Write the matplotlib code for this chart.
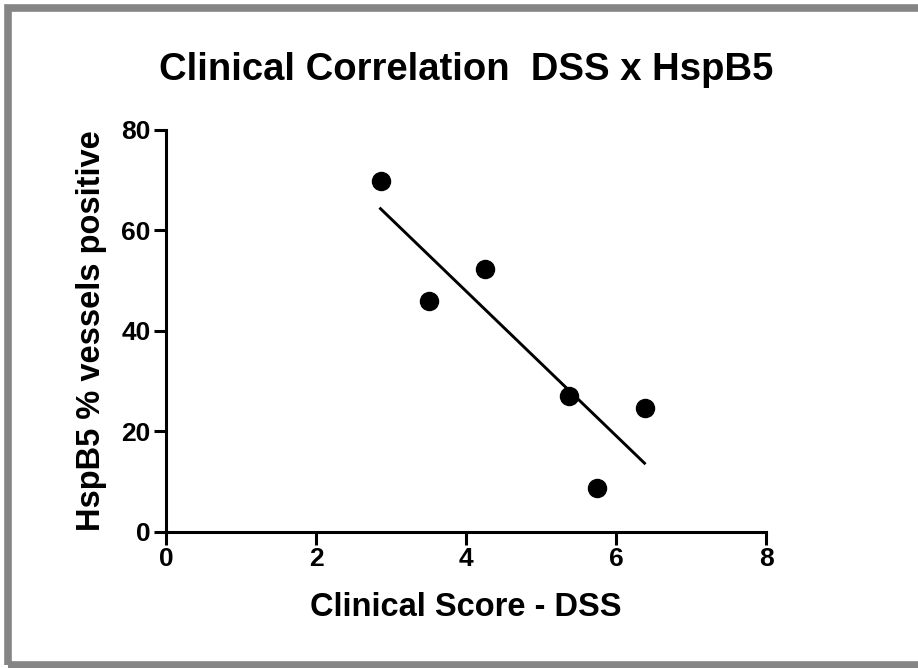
import numpy as np
import matplotlib
matplotlib.use("Agg")
import matplotlib.pyplot as plt
from matplotlib.patches import Rectangle

# clinical score (DSS) vs HspB5 % positive vessels
dss = [2.86, 3.50, 4.25, 5.37, 5.75, 6.38]
hspb5 = [69.9, 45.9, 52.3, 26.9, 8.6, 24.6]

xticks = [0, 2, 4, 6, 8]
yticks = [0, 20, 40, 60, 80]

plt.rcParams['font.family'] = ['Liberation Sans', 'DejaVu Sans']
plt.rcParams['font.weight'] = 'bold'

W, H = 918, 668
fig = plt.figure(figsize=(W / 100, H / 100), dpi=100)
ax = fig.add_axes([166 / W, 1 - 531.5 / H, 600 / W, 401.5 / H])

# linear fit over the data range
slope, intercept = np.polyfit(dss, hspb5, 1)
xf = np.array([min(dss), max(dss)])
ax.plot(xf, slope * xf + intercept, color='black', lw=2.1, zorder=2)
ax.plot(dss, hspb5, 'o', color='black', ms=13, zorder=3)

ax.set_xlim(0, 8)
ax.set_ylim(0, 80)
ax.set_xticks(xticks)
ax.set_yticks(yticks)
for s in ['top', 'right']:
    ax.spines[s].set_visible(False)
for s in ['left', 'bottom']:
    ax.spines[s].set_linewidth(2.2)
ax.tick_params(width=2.2, length=9, labelsize=19, pad=2)
for lab in ax.get_xticklabels() + ax.get_yticklabels():
    lab.set_fontweight('bold')

fig.text(466 / W, 1 - 70 / H, 'Clinical Correlation  DSS x HspB5',
         fontsize=27.5, fontweight='bold', ha='center', va='center')
ax.set_xlabel('Clinical Score - DSS', fontsize=23.5, fontweight='bold', va='center')
ax.xaxis.set_label_coords(0.5, -(607 - 531.5) / 401.5)
ax.set_ylabel('HspB5 % vessels positive', fontsize=23.5, fontweight='bold',
              va='center', ha='center')
ax.yaxis.set_label_coords((92 - 166) / 600, (531.5 - 331) / 401.5)

# grey frame round the picture
fig.patches.append(Rectangle((7.5 / W, 3.5 / H), 1.2, 1 - 11 / H,
                             transform=fig.transFigure, fill=False,
                             edgecolor='#858585', lw=5.5))

fig.savefig('out.png', dpi=100)
